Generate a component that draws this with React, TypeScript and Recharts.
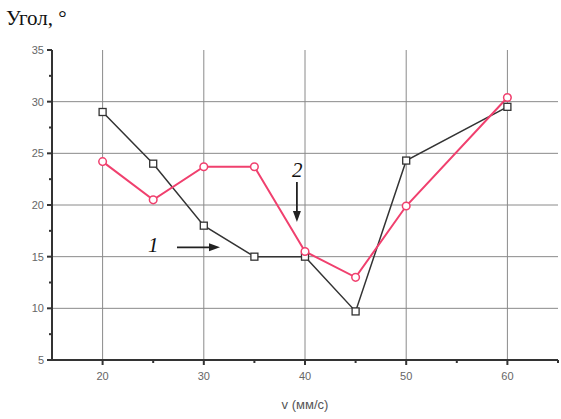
import { LineChart, Line, XAxis, YAxis, ReferenceLine, ReferenceDot } from 'recharts';

const speeds = [20, 25, 30, 35, 40, 45, 50, 60];
const angle1 = [29.0, 24.0, 18.0, 15.0, 15.0, 9.7, 24.3, 29.5];
const angle2 = [24.2, 20.5, 23.7, 23.7, 15.5, 13.0, 19.9, 30.4];

const xTicks = [20, 25, 30, 35, 40, 45, 50, 55, 60, 65];
const xLabels = [20, 30, 40, 50, 60];
const yTicks = [5, 7.5, 10, 12.5, 15, 17.5, 20, 22.5, 25, 27.5, 30, 32.5, 35];
const yLabels = [5, 10, 15, 20, 25, 30, 35];
const gridX = [20, 30, 40, 50, 60];
const gridY = [10, 15, 20, 25, 30];

const data = speeds.map((v, i) => ({ v, a1: angle1[i], a2: angle2[i] }));

const AXIS = '#333';
const TICK_TEXT = '#666';
const FONT = '"Liberation Sans", Arial, sans-serif';
const SERIF = '"Liberation Serif", "Times New Roman", serif';

function XTick(props: any) {
  const { x, y, payload } = props;
  const major = xLabels.includes(payload.value);
  const len = major ? 5 : 3;
  return (
    <g>
      <path d={`M${x},${y}V${y + len}`} style={{ stroke: AXIS, strokeWidth: 2 }} />
      {major && (
        <text x={x} y={y + 20} textAnchor="middle" fontSize={11} fill={TICK_TEXT} fontFamily={FONT}>
          {payload.value}
        </text>
      )}
    </g>
  );
}

function YTick(props: any) {
  const { x, y, payload } = props;
  const major = yLabels.includes(payload.value);
  const len = major ? 5 : 3;
  return (
    <g>
      <path d={`M${x - len},${y}H${x}`} style={{ stroke: AXIS, strokeWidth: 2 }} />
      {major && (
        <text x={x - 8} y={y + 4} textAnchor="end" fontSize={11} fill={TICK_TEXT} fontFamily={FONT}>
          {payload.value}
        </text>
      )}
    </g>
  );
}

function SquareDot(props: any) {
  const { cx, cy } = props;
  if (cx == null || cy == null) return null;
  return <rect x={cx - 3.5} y={cy - 3.5} width={7} height={7} fill="#fff" stroke="#333" strokeWidth={1.3} />;
}

function CircleDot(props: any) {
  const { cx, cy } = props;
  if (cx == null || cy == null) return null;
  return <circle cx={cx} cy={cy} r={3.8} fill="#fff" stroke="#f0406e" strokeWidth={1.5} />;
}

// arrow "1" points right to curve 1, arrow "2" points down to curve 2
function Mark1(props: any) {
  const { cx, cy } = props;
  return (
    <g>
      <line x1={cx - 43} x2={cx - 8} y1={cy} y2={cy} stroke="#222" strokeWidth={1.8} />
      <path d={`M${cx},${cy} L${cx - 11},${cy - 4} L${cx - 11},${cy + 4} Z`} fill="#222" />
      <text x={cx - 72} y={cy + 5} fontSize={21} fontStyle="italic" fontFamily={SERIF} fill="#111">1</text>
    </g>
  );
}

function Mark2(props: any) {
  const { cx, cy } = props;
  return (
    <g>
      <line x1={cx} x2={cx} y1={cy - 40} y2={cy - 8} stroke="#222" strokeWidth={1.8} />
      <path d={`M${cx},${cy} L${cx - 4},${cy - 11} L${cx + 4},${cy - 11} Z`} fill="#222" />
      <text x={cx - 5} y={cy - 45} fontSize={21} fontStyle="italic" fontFamily={SERIF} fill="#111">2</text>
    </g>
  );
}

export default function App() {
  return (
    <div style={{ position: 'absolute', left: 0, top: 0, width: 561, height: 419, background: '#fff' }}>
      <div style={{ position: 'absolute', left: 6, top: 6, fontFamily: SERIF, fontSize: 21, color: '#111' }}>
        Угол, °
      </div>
      <LineChart width={561} height={419} data={data} margin={{ top: 50, right: 3, left: 0, bottom: 29 }}>
        {gridX.map(g => (
          <ReferenceLine key={'gx' + g} x={g} stroke="#8a8a8a" strokeWidth={1} />
        ))}
        {gridY.map(g => (
          <ReferenceLine key={'gy' + g} y={g} stroke="#8a8a8a" strokeWidth={1} />
        ))}
        <XAxis
          dataKey="v"
          type="number"
          domain={[15, 65]}
          ticks={xTicks}
          interval={0}
          height={30}
          tickSize={0}
          tickMargin={0}
          tickLine={false}
          stroke={AXIS}
          strokeWidth={2}
          tick={<XTick />}
          label={{ value: 'v (мм/с)', position: 'bottom', offset: 10, fill: '#555', fontSize: 13, fontFamily: FONT }}
        />
        <YAxis
          type="number"
          domain={[5, 35]}
          ticks={yTicks}
          interval={0}
          width={52}
          tickSize={0}
          tickMargin={0}
          tickLine={false}
          stroke={AXIS}
          strokeWidth={2}
          tick={<YTick />}
        />
        <Line dataKey="a1" stroke="#333" strokeWidth={1.5} dot={<SquareDot />} isAnimationActive={false} />
        <Line dataKey="a2" stroke="#f0406e" strokeWidth={2} dot={<CircleDot />} isAnimationActive={false} />
        <ReferenceDot x={31.6} y={15.9} shape={<Mark1 />} />
        <ReferenceDot x={39.2} y={18.35} shape={<Mark2 />} />
      </LineChart>
    </div>
  );
}
